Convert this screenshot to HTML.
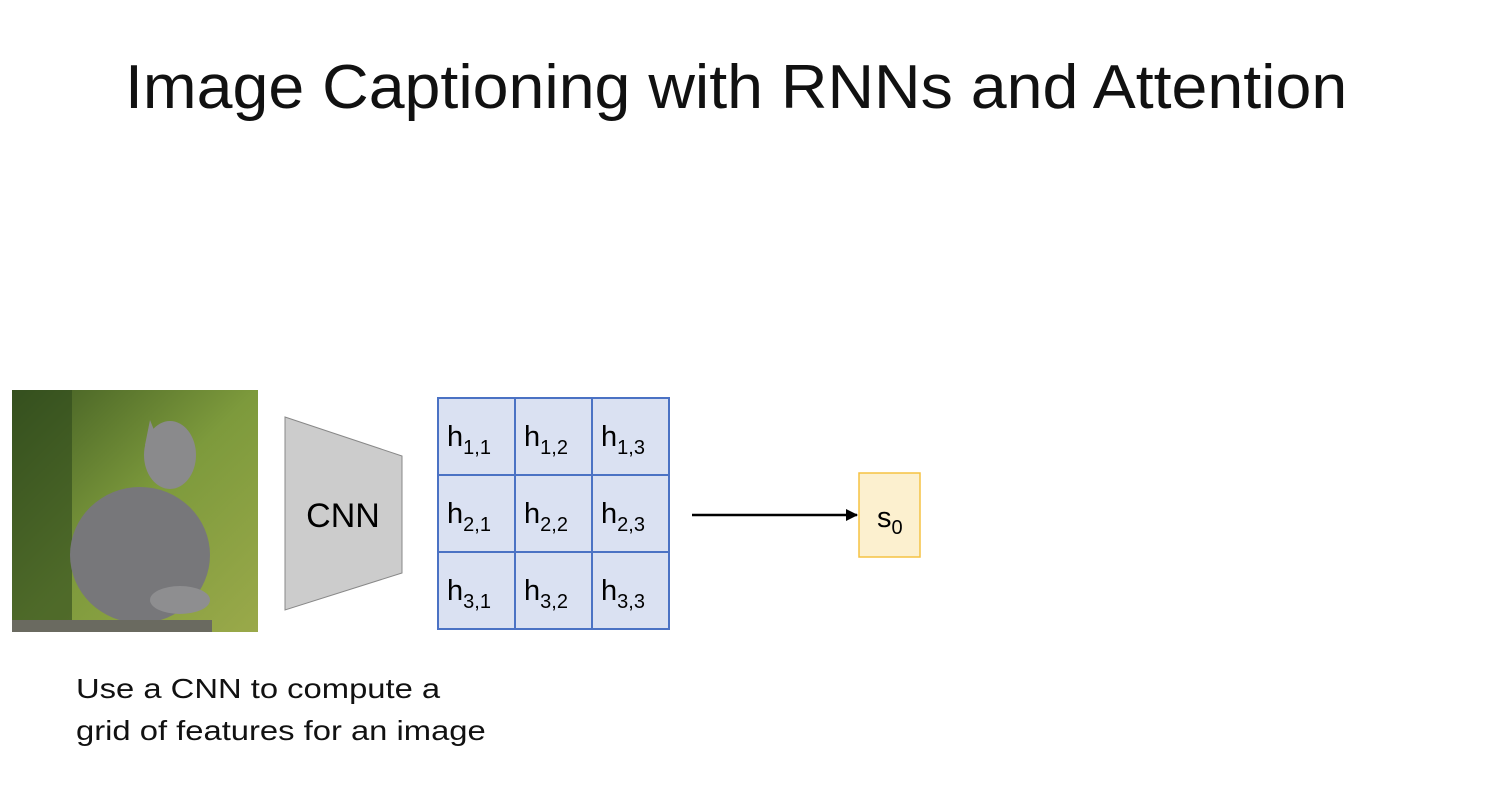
<!DOCTYPE html>
<html><head><style>
body{margin:0;width:1496px;height:808px;background:#fff;position:relative;overflow:hidden;font-family:"Liberation Sans",sans-serif;}
.t{position:absolute;left:125px;top:52px;font-size:62px;color:#111;white-space:nowrap;transform:scaleX(1.04);transform-origin:left top;}
.cap{position:absolute;left:76px;top:668px;font-size:28px;line-height:42px;color:#111;white-space:nowrap;transform:scaleX(1.17);transform-origin:left top;}
</style></head><body>
<div class="t">Image Captioning with RNNs and Attention</div>
<svg width="1496" height="808" style="position:absolute;left:0;top:0" font-family="Liberation Sans, sans-serif">
<defs>
<linearGradient id="bg" x1="0" y1="0" x2="1" y2="1"><stop offset="0" stop-color="#3f5a22"/><stop offset="0.5" stop-color="#7d9a3c"/><stop offset="1" stop-color="#9aa94a"/></linearGradient>
<marker id="ar" markerWidth="12" markerHeight="12" refX="11" refY="6" orient="auto" markerUnits="userSpaceOnUse"><path d="M0,0 L12,6 L0,12z" fill="#000"/></marker>
</defs>
<rect x="12" y="390" width="246" height="242" fill="url(#bg)"/>
<rect x="12" y="390" width="60" height="242" fill="#2f4a1c" opacity="0.6"/>
<ellipse cx="140" cy="555" rx="70" ry="68" fill="#77777a"/>
<ellipse cx="170" cy="455" rx="26" ry="34" fill="#8a8a8c"/>
<ellipse cx="180" cy="600" rx="30" ry="14" fill="#8e8e90"/>
<polygon points="150,420 160,445 145,445" fill="#8a8a8c"/>
<rect x="12" y="620" width="200" height="12" fill="#6a6a60"/>
<polygon points="285,417 402,456 402,573 285,610" fill="#cccccc" stroke="#888" stroke-width="1"/>
<text x="343" y="527" font-size="34" text-anchor="middle" fill="#000">CNN</text>
<g fill="#dae1f2" stroke="#4b72c4" stroke-width="2">
<rect x="438" y="398" width="77" height="77"/><rect x="515" y="398" width="77" height="77"/><rect x="592" y="398" width="77" height="77"/>
<rect x="438" y="475" width="77" height="77"/><rect x="515" y="475" width="77" height="77"/><rect x="592" y="475" width="77" height="77"/>
<rect x="438" y="552" width="77" height="77"/><rect x="515" y="552" width="77" height="77"/><rect x="592" y="552" width="77" height="77"/>
</g>
<g font-size="29" fill="#000">
<text x="447" y="446">h<tspan font-size="20" dy="8">1,1</tspan></text>
<text x="524" y="446">h<tspan font-size="20" dy="8">1,2</tspan></text>
<text x="601" y="446">h<tspan font-size="20" dy="8">1,3</tspan></text>
<text x="447" y="523">h<tspan font-size="20" dy="8">2,1</tspan></text>
<text x="524" y="523">h<tspan font-size="20" dy="8">2,2</tspan></text>
<text x="601" y="523">h<tspan font-size="20" dy="8">2,3</tspan></text>
<text x="447" y="600">h<tspan font-size="20" dy="8">3,1</tspan></text>
<text x="524" y="600">h<tspan font-size="20" dy="8">3,2</tspan></text>
<text x="601" y="600">h<tspan font-size="20" dy="8">3,3</tspan></text>
</g>
<line x1="692" y1="515" x2="857" y2="515" stroke="#000" stroke-width="2.5" marker-end="url(#ar)"/>
<rect x="859" y="473" width="61" height="84" fill="#fcf0cf" stroke="#f5c242" stroke-width="1.5"/>
<text x="877" y="527" font-size="29" fill="#000">s<tspan font-size="20" dy="7">0</tspan></text>
</svg>
<div class="cap">Use a CNN to compute a<br>grid of features for an image</div>
</body></html>
